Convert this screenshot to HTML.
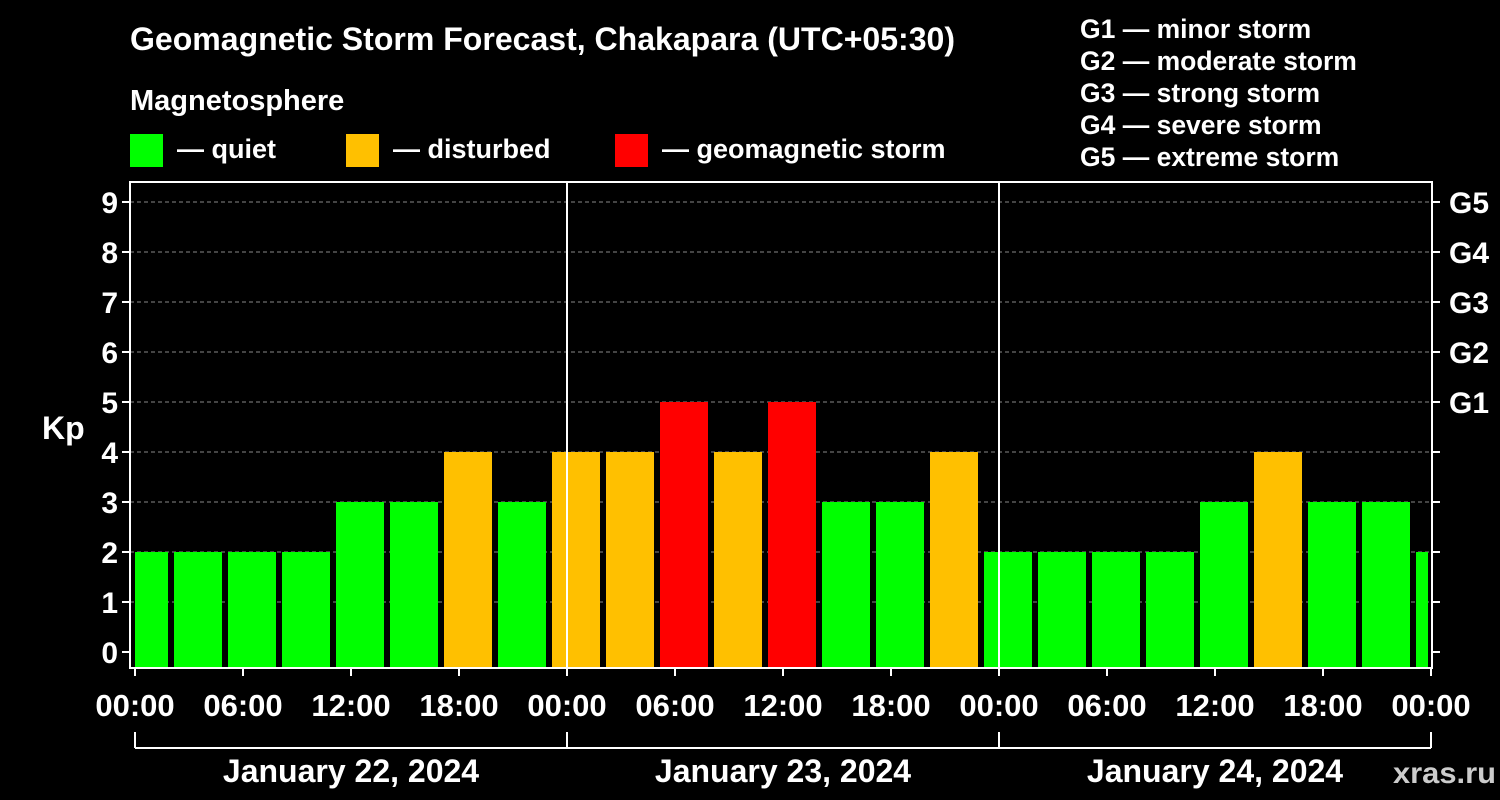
<!DOCTYPE html>
<html><head><meta charset="utf-8">
<style>
html,body{margin:0;padding:0;background:#000;}
svg{display:block;font-family:"Liberation Sans",Arial,sans-serif;font-weight:bold;}
</style></head>
<body>
<svg id="chart" width="1500" height="800" viewBox="0 0 1500 800" xmlns="http://www.w3.org/2000/svg">
<rect width="1500" height="800" fill="#000"/>
<text x="130" y="50" fill="#fff" font-size="32" textLength="825" lengthAdjust="spacingAndGlyphs">Geomagnetic Storm Forecast, Chakapara (UTC+05:30)</text>
<text x="130" y="110" fill="#fff" font-size="29">Magnetosphere</text>
<g>
<rect x="130" y="134" width="33" height="33" fill="#00ff00"/>
<text x="177" y="158" fill="#fff" font-size="27">— quiet</text></g>
<g>
<rect x="346" y="134" width="33" height="33" fill="#ffc000"/>
<text x="393" y="158" fill="#fff" font-size="27">— disturbed</text></g>
<g>
<rect x="615" y="134" width="33" height="33" fill="#ff0000"/>
<text x="662" y="158" fill="#fff" font-size="27">— geomagnetic storm</text></g>
<g fill="#fff" font-size="26.5">
<text x="1080" y="38">G1 — minor storm</text>
<text x="1080" y="70">G2 — moderate storm</text>
<text x="1080" y="102">G3 — strong storm</text>
<text x="1080" y="134">G4 — severe storm</text>
<text x="1080" y="166">G5 — extreme storm</text>
</g>
<text x="42" y="439" fill="#fff" font-size="32">Kp</text>
<g id="grid"></g>
<g id="bars"></g>
<g id="axes"></g>
<text x="1393" y="783" fill="#ccc" font-size="30" textLength="103" lengthAdjust="spacingAndGlyphs">xras.ru</text>
</svg>
<script>
const kpValues=[2,2,2,2,3,3,4,3,4,4,5,4,5,3,3,4,2,2,2,2,3,4,3,3,2];
const yTicks=[0,1,2,3,4,5,6,7,8,9];
const gLevels=["G1","G2","G3","G4","G5"];
const xTickLabels=["00:00","06:00","12:00","18:00","00:00","06:00","12:00","18:00","00:00","06:00","12:00","18:00","00:00"];
const dayLabels=["January 22, 2024","January 23, 2024","January 24, 2024"];

const NS="http://www.w3.org/2000/svg";
const X0=135,HOUR=18,PL=130,PR=1432,PT=182,PB=668;
const xh=h=>X0+h*HOUR;
const y=v=>652-50*v;
const firstSlotStart=-1;
function el(tag,attrs,parent){const e=document.createElementNS(NS,tag);for(const k in attrs)e.setAttribute(k,attrs[k]);parent.appendChild(e);return e;}
const grid=document.getElementById('grid'),bars=document.getElementById('bars'),axes=document.getElementById('axes');
yTicks.forEach(v=>{if(v>=1){const l=el('line',{x1:PL,x2:PR,y1:y(v),y2:y(v),stroke:'#888','stroke-dasharray':'4,3','stroke-width':1},grid);

}});
function color(v){return v>=5?'#ff0000':(v>=4?'#ffc000':'#00ff00');}
kpValues.forEach((v,i)=>{
 let s=xh(firstSlotStart+3*i)+3, e=xh(firstSlotStart+3*i+3)-3;
 s=Math.max(s,X0); e=Math.min(e,PR-4);
 if(e<=s)return;
 const r=el('rect',{x:s,y:y(v),width:e-s,height:PB-y(v),fill:color(v)},bars);
 
 
});
const f=el('rect',{x:PL,y:PT,width:PR-PL,height:PB-PT,fill:'none',stroke:'#fff','stroke-width':2},axes);


[1,2].forEach(d=>{const l=el('line',{x1:xh(24*d),x2:xh(24*d),y1:PT,y2:PB,stroke:'#fff','stroke-width':2},axes);

});
yTicks.forEach(v=>{
 el('line',{x1:PL-8,x2:PL,y1:y(v),y2:y(v),stroke:'#fff','stroke-width':2},axes);
 el('line',{x1:PR,x2:PR+8,y1:y(v),y2:y(v),stroke:'#fff','stroke-width':2},axes);
 const t=el('text',{x:118,y:y(v)+11,fill:'#fff','font-size':30,'text-anchor':'end'},axes);t.textContent=v;
 
 
});
gLevels.forEach((g,i)=>{const t=el('text',{x:1449,y:y(5+i)+11,fill:'#fff','font-size':30},axes);t.textContent=g;
 
 });
xTickLabels.forEach((lab,i)=>{const x=xh(6*i);
 el('line',{x1:x,x2:x,y1:PB,y2:PB+8,stroke:'#fff','stroke-width':2},axes);
 const t=el('text',{x:x,y:716,fill:'#fff','font-size':31,'text-anchor':'middle'},axes);t.textContent=lab;
 
 });
el('line',{x1:X0,x2:xh(72),y1:748,y2:748,stroke:'#fff','stroke-width':2},axes);
[0,1,2,3].forEach(d=>el('line',{x1:xh(24*d),x2:xh(24*d),y1:732,y2:748,stroke:'#fff','stroke-width':2},axes));
dayLabels.forEach((lab,d)=>{const t=el('text',{x:xh(24*d+12),y:782,fill:'#fff','font-size':32,'text-anchor':'middle'},axes);t.textContent=lab;
 
 });
</script>
</body></html>
